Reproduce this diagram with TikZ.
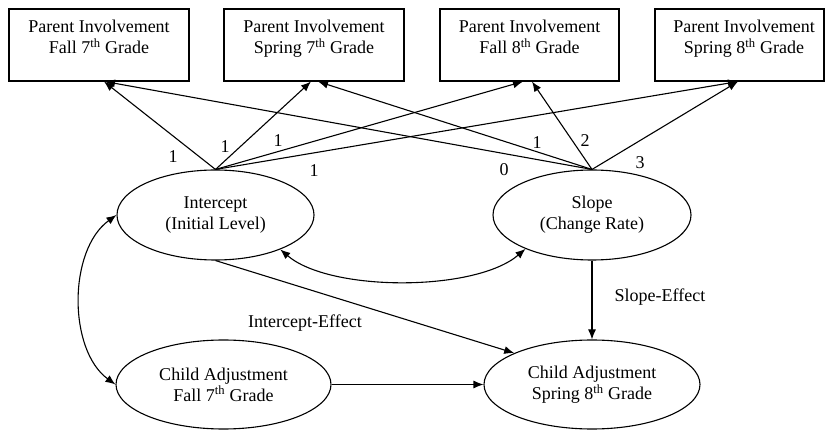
\documentclass[tikz,border=0pt]{standalone}
\usepackage{fontspec}
\setmainfont{Liberation Serif}
\usetikzlibrary{arrows.meta,shapes.geometric}
\begin{document}
\begin{tikzpicture}[x=1pt,y=-1pt,
  every node/.style={font=\fontsize{18}{21}\selectfont},
  box/.style={draw, line width=1.1pt, minimum height=72pt, inner sep=0pt},
  btxt/.style={anchor=north, align=center, inner sep=0pt},
  ell/.style={draw, ellipse, line width=1.1pt, align=center, inner sep=0pt},
  lab/.style={inner sep=0pt},
  arr/.style={line width=1.1pt, -{Latex[length=10pt,width=8pt]}},
  darr/.style={line width=1.1pt, {Latex[length=10pt,width=8pt]}-{Latex[length=10pt,width=8pt]}}
]
\useasboundingbox (0,0) rectangle (825,430);
% boxes
\node[box, minimum width=180pt] (b1) at (99,45) {};
\node[box, minimum width=180pt] (b2) at (314,45) {};
\node[box, minimum width=179pt] (b3) at (529.5,45) {};
\node[box, minimum width=169pt] (b4) at (739.5,45) {};
\node[btxt] (t1) at ([yshift=-11.5]b1.north) {Parent Involvement\\Fall 7\textsuperscript{th} Grade};
\node[btxt] (t2) at ([yshift=-11.5]b2.north) {Parent Involvement\\Spring 7\textsuperscript{th} Grade};
\node[btxt] (t3) at ([yshift=-11.5]b3.north) {Parent Involvement\\Fall 8\textsuperscript{th} Grade};
\node[btxt] (t4) at ([xshift=4.5,yshift=-11.5]b4.north) {Parent Involvement\\Spring 8\textsuperscript{th} Grade};
% ellipses
\node[ell, minimum width=197pt, minimum height=90pt] (int) at (215.5,215) {Intercept\\(Initial Level)};
\node[ell, minimum width=198pt, minimum height=90pt] (sl) at (592,215) {Slope\\(Change Rate)};
\node[ell, minimum width=215pt, minimum height=89pt] (cf) at (223.5,384.5) {Child Adjustment\\Fall 7\textsuperscript{th} Grade};
\node[ell, minimum width=216pt, minimum height=89pt] (cs) at (592,384.5) {Child Adjustment\\Spring 8\textsuperscript{th} Grade};
% loadings
\draw[arr] (int.north) -- ([xshift=5]b1.south);
\draw[arr] (int.north) -- ([xshift=-3]b2.south);
\draw[arr] (int.north) -- ([xshift=-6.5]b3.south);
\draw[arr] (int.north) -- ([xshift=-1.5]b4.south);
\draw[arr] (sl.north) -- ([xshift=6]b1.south);
\draw[arr] (sl.north) -- ([xshift=4]b2.south);
\draw[arr] (sl.north) -- ([xshift=2.5]b3.south);
\draw[arr] (sl.north) -- ([xshift=-1.5]b4.south);
% labels
\node[lab] (l1) at (173,157) {1};
\node[lab] (l2) at (225,147) {1};
\node[lab] (l3) at (278,141) {1};
\node[lab] (l4) at (314,171) {1};
\node[lab] (l5) at (504,170) {0};
\node[lab] (l6) at (537,143) {1};
\node[lab] (l7) at (585,141) {2};
\node[lab] (l8) at (640,163) {3};
% covariances
\draw[darr] (int.west) .. controls (68,250) and (68,350) .. (cf.west);
\draw[darr] (int.-28) .. controls (330,292) and (475,292) .. (sl.-153);
% effects
\draw[arr] (int.south) -- (cs.158);
\draw[arr] (sl.south) -- (cs.north);
\draw[arr] (cf.east) -- (cs.west);
\node[lab] (ie) at (305,323) {Intercept-Effect};
\node[lab] (se) at (660,297) {Slope-Effect};
\end{tikzpicture}
\end{document}
